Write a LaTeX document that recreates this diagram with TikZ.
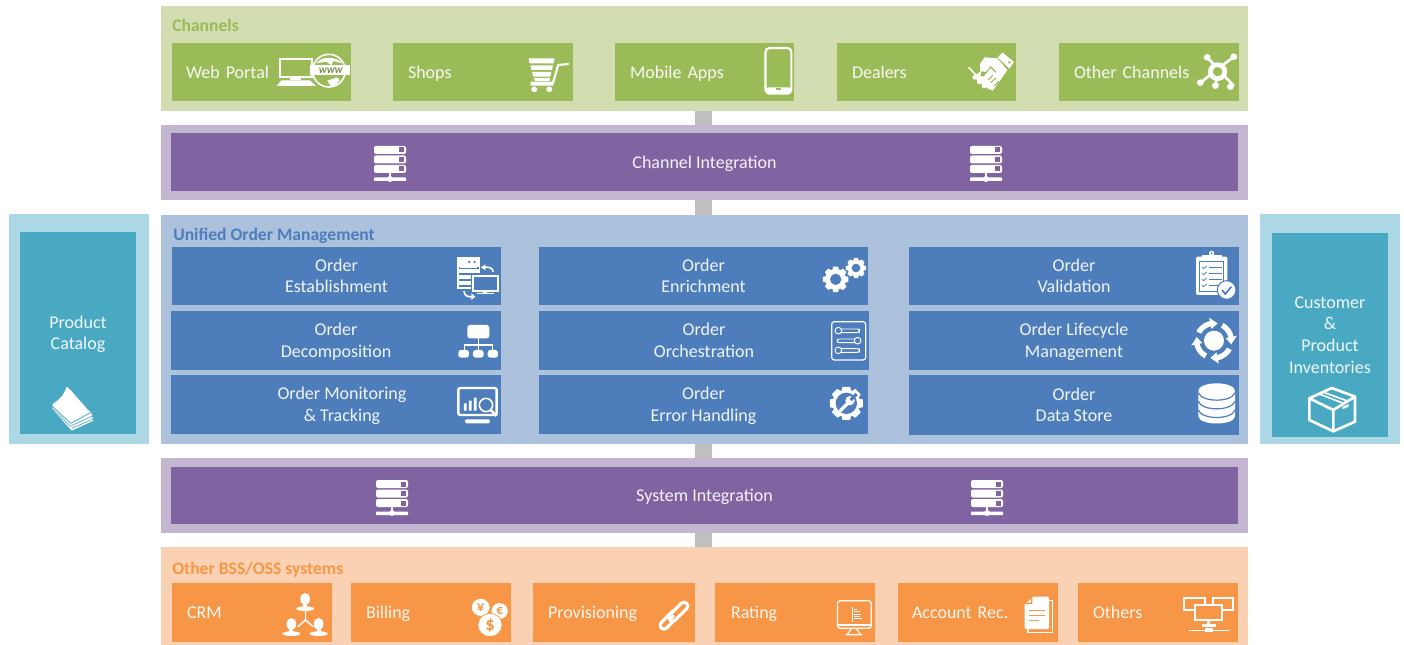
\documentclass[tikz,border=0pt]{standalone}
\usepackage{fontspec}
\setmainfont{Carlito}
\usetikzlibrary{calc}
\definecolor{grnL}{HTML}{D2DEB1}\definecolor{grn}{HTML}{9BBB59}
\definecolor{purL}{HTML}{C3B6D1}\definecolor{pur}{HTML}{8064A2}
\definecolor{bluL}{HTML}{ABC1DC}\definecolor{blu}{HTML}{4D7EBB}
\definecolor{tealL}{HTML}{ACD7E4}\definecolor{teal2}{HTML}{4AA9C2}
\definecolor{orgL}{HTML}{FAD1B2}\definecolor{org}{HTML}{F79646}
\definecolor{barg}{HTML}{BFBFBF}\definecolor{txt}{HTML}{FFFFFF}
\newcommand\bx[7]{\node[#2,minimum width={(#5-#3)*0.75pt},minimum height={(#6-#4)*0.75pt}] (#1) at ({(#3+#5)/2},{(#4+#6)/2}) {#7};}
\newcommand\obx[6]{\node[bluebox,minimum width={(#4-#2)*0.75pt},minimum height={(#5-#3)*0.75pt}] (#1) at ({(#2+#4)/2},{(#3+#5)/2}) {};
 \node[freelabel] (#1t) at ({(#2+#4)/2},{(#3+#5)/2+3}) {#6};}
\newcommand\lbx[7]{\node[#2,align=left,inner xsep=11.25pt,text width={(#5-#3-30)*0.75pt},minimum width={(#5-#3)*0.75pt},minimum height={(#6-#4)*0.75pt}] (#1) at ({(#3+#5)/2},{(#4+#6)/2}) {#7};}
\newcommand\icoserver[3]{\begin{scope}[shift={(#1,#2)}]
 \foreach \yy in {-17,-7.5,2}{\fill[white,rounded corners=1.5pt] (-16,\yy) rectangle (16,\yy+8);
 \fill[#3] (9,\yy+1.5) rectangle (14,\yy+6.5);}
 \fill[white] (-1,10) rectangle (1,15);
 \fill[white,rounded corners=.5pt] (-16,14.5) rectangle (16,18);
 \fill[white] (0,16) circle[radius=3];
\end{scope}}
\newcommand\icogear[5]{%
 \fill[white] (#1,#2) circle[radius={0.8*#3}];
 \foreach \a in {0,45,...,315}{\fill[white] ({#1+#3*cos(\a-#5)},{#2+#3*sin(\a-#5)}) -- ({#1+#3*cos(\a+#5)},{#2+#3*sin(\a+#5)}) -- ({#1+.7*#3*cos(\a+2*#5)},{#2+.7*#3*sin(\a+2*#5)}) -- ({#1+.7*#3*cos(\a-2*#5)},{#2+.7*#3*sin(\a-2*#5)}) -- cycle;}
 \fill[blu] (#1,#2) circle[radius=#4];}
\newcommand\icoperson[2]{%
 \fill[white] (#1,#2) ellipse[x radius=14,y radius=18];
 \fill[white] (#1-6,#2+12) rectangle (#1+6,#2+24);
 \fill[white] (#1,#2+29) ellipse[x radius=26,y radius=7];}
\newcommand\icocoin[5]{%
 \fill[white,draw=org,line width=.5pt] (#1,#2) circle[radius=#3];
 \node[inner sep=0,text=org,font=\fontsize{#5}{#5}\selectfont\bfseries] (#4) at (#1,#2) {\csname coin#4\endcsname};}
\newcommand\coinyen{¥}\newcommand\coineur{€}\newcommand\coindol{\$}
\tikzset{
 x=0.75pt,y=-0.75pt,
 panelbox/.style={inner sep=0,outer sep=0,draw=none},
 labeltext/.style={text=txt,text opacity=.92,font=\fontsize{13.5}{16.2}\selectfont,align=center,execute at begin node={\rule{0pt}{14.4pt}},execute at end node={\rule[-4.8pt]{0pt}{0pt}}},
 greenbox/.style={panelbox,fill=grn,labeltext},
 purplebox/.style={panelbox,fill=pur,labeltext},
 bluebox/.style={panelbox,fill=blu},
 tealbox/.style={panelbox,fill=teal2},
 orangebox/.style={panelbox,fill=org,labeltext},
 freelabel/.style={inner sep=0,labeltext},
 title/.style={inner sep=0,anchor=west,font=\fontsize{13.2}{15}\selectfont\bfseries},
 connector/.style={draw=barg,line width=12.4pt},
 zA/.style={shift={(160,0)},xscale=1/2.8,yscale=1/3},
 zB/.style={shift={(720,0)},xscale=1/2.9,yscale=1/3},
 zC/.style={shift={(0,210)},xscale=1/3,yscale=1/3},
 zD/.style={shift={(520,240)},xscale=1/3,yscale=1/3},
 zE/.style={shift={(900,210)},xscale=1/3,yscale=1/3},
 zF/.style={shift={(160,530)},xscale=1/2.9,yscale=1/3},
 zG/.style={shift={(700,530)},xscale=1/2.85,yscale=1/3},
 zH/.style={shift={(960,48)},xscale=1/3,yscale=1/3},
 zI/.style={shift={(460,590)},xscale=1/3,yscale=1/3},
 w1/.style={draw=white,line width=.9pt},
 w2/.style={draw=white,line width=1.6pt},
}
\begin{document}
\begin{tikzpicture}
\useasboundingbox (0,0) rectangle (1404,645);
\coordinate (axis) at (703.5,0);
% panels
\bx{channels}{panelbox,fill=grnL}{161}{6}{1248}{111}{}
\bx{chint}{panelbox,fill=purL}{161}{125}{1248}{200}{}
\bx{uom}{panelbox,fill=bluL}{161}{215}{1248}{444}{}
\bx{sysint}{panelbox,fill=purL}{161}{458}{1248}{533}{}
\bx{bss}{panelbox,fill=orgL}{161}{547}{1248}{645}{}
\bx{catalogP}{panelbox,fill=tealL}{9}{214}{149}{444}{}
\bx{invP}{panelbox,fill=tealL}{1260}{214}{1400}{444}{}
% connectors
\draw[connector] (channels.south -| axis) -- (chint.north -| axis);
\draw[connector] (chint.south -| axis) -- (uom.north -| axis);
\draw[connector] (uom.south -| axis) -- (sysint.north -| axis);
\draw[connector] (sysint.south -| axis) -- (bss.north -| axis);
% titles
\node[title,text=grn] (tchan) at (172,25) {Channels};
\node[title,text=blu] (tuom) at (173,236) {Unified Order Management};
\node[title,text=org] (tbss) at (172,570) {Other BSS/OSS systems};
% channels
\lbx{web}{greenbox}{172}{43}{351}{101}{\hspace*{-.75pt}Web Portal}
\lbx{shops}{greenbox}{393}{43}{573}{101}{Shops}
\lbx{mobile}{greenbox}{615}{43}{794}{101}{Mobile Apps}
\lbx{dealers}{greenbox}{837}{43}{1016}{101}{Dealers}
\lbx{otherch}{greenbox}{1059}{43}{1239}{101}{Other Channels}
% integrations
\bx{chbar}{purplebox}{171}{133}{1238}{191}{Channel Integration}
\bx{sysbar}{purplebox}{171}{467}{1238}{524}{System Integration}
% order boxes
\obx{o11}{172}{247}{501}{305}{Order\\Establishment}
\obx{o21}{171}{311}{501}{370}{Order\\Decomposition}
\obx{o31}{171}{375}{501}{434}{\hspace*{9pt}Order Monitoring\\\hspace*{9pt}\& Tracking}
\obx{o12}{539}{247}{868}{305}{Order\\Enrichment}
\obx{o22}{539}{311}{869}{370}{Order\\Orchestration}
\obx{o32}{539}{375}{868}{434}{Order\\Error Handling}
\obx{o13}{909}{247}{1239}{305}{Order\\Validation}
\obx{o23}{909}{311}{1239}{370}{Order Lifecycle\\Management}
\obx{o33}{909}{375}{1239}{435}{Order\\Data Store}
% side
\bx{catalog}{tealbox}{20}{232}{136}{434}{}
\bx{inv}{tealbox}{1272}{233}{1388}{437}{}
\node[freelabel] (tcat) at (78,336) {Product\\Catalog};
\node[freelabel] (tinv) at (1330,338) {Customer\\\&\\Product\\Inventories};
% bss
\lbx{crm}{orangebox}{172}{583}{332}{642}{CRM}
\lbx{billing}{orangebox}{351}{583}{511}{642}{Billing}
\lbx{prov}{orangebox}{533}{583}{695}{642}{Provisioning}
\lbx{rating}{orangebox}{715}{583}{875}{642}{\hspace*{.75pt}Rating}
\lbx{acct}{orangebox}{898}{583}{1058}{642}{\hspace*{-.75pt}Account Rec.}
\lbx{others}{orangebox}{1078}{583}{1238}{642}{Others}
% server icons
\icoserver{390}{163}{pur}\icoserver{986}{163}{pur}
\icoserver{392}{497}{pur}\icoserver{987}{497}{pur}
% web portal
\begin{scope}[zA]
 \draw[w2] (337,176) rectangle (425,232);
 \fill[white] (365,232) rectangle (395,241);
 \fill[white] (340,241) -- (420,241) -- (437,258) -- (327,258) -- cycle;
 \fill[grn,draw=white,line width=1.2pt] (473,212) ellipse[x radius=46,y radius=49];
 \fill[white] (438,190) .. controls (450,168) and (495,168) .. (510,190) -- (485,183) -- (480,195) -- (465,185) -- cycle;
 \fill[white] (468,242) -- (495,232) -- (503,240) .. controls (495,255) and (485,258) .. (478,258) -- cycle;
 \fill[white] (421,196) rectangle (532,226);
 \node[inner sep=0,text=grn!70!black,font=\fontsize{6.5}{6.5}\selectfont\itshape\bfseries] (wwwt) at (478,211) {WWW};
 % cart
 \fill[white] (1032,175) -- (1105,175) -- (1102,190) -- (1035,190) -- cycle;
 \fill[white] (1037,196) -- (1100,196) -- (1098,210) -- (1040,210) -- cycle;
 \fill[white] (1042,216) -- (1096,216) -- (1093,230) -- (1045,230) -- cycle;
 \fill[white] (1047,234) -- (1092,234) -- (1090,243) -- (1050,243) -- cycle;
 \fill[white,rounded corners=.5pt] (1038,245) rectangle (1102,257);
 \draw[w2,line cap=round] (1100,250) -- (1115,195) -- (1143,192);
 \fill[white] (1048,268) circle[radius=8.5];
 \fill[white] (1090,268) circle[radius=8.5];
\end{scope}
% phone, network
\begin{scope}[zB]
 \draw[w2,rounded corners=3pt] (132,144) rectangle (207,281);
 \fill[white,rounded corners=2pt] (132,262) rectangle (207,281);
 \fill[grn] (161,265) rectangle (176,271);
 \draw[w2,line width=2pt] (1413,172) -- (1490,258) (1490,170) -- (1393,248) (1437,257) -- (1443,215);
 \fill[white] (1413,172) circle[radius=10] (1490,170) circle[radius=10] (1393,248) circle[radius=10] (1437,257) circle[radius=10] (1480,260) circle[radius=10];
 \fill[white] (1443,215) circle[radius=28];
 \fill[grn] (1443,215) circle[radius=14];
\end{scope}
% handshake
\begin{scope}[zH]
 \fill[white] (128,14) -- (162,42) -- (148,62) -- (113,28) -- cycle;
 \fill[grn] (148,43) circle[radius=4];
 \fill[white] (60,48) -- (74,28) -- (112,31) -- (142,66) -- (124,92) -- (98,128) -- (84,122) -- (52,98) -- (42,84) -- (60,72) -- cycle;
 \fill[grn] (64,70) -- (78,72) -- (92,54) -- (110,72) -- (84,88) -- (62,84) -- cycle;
 \fill[white] (92,60) -- (118,86) -- (90,110) -- (66,92) -- cycle;
 \draw[grn,line width=.8pt] (84,96) -- (98,82) (92,104) -- (108,90) (102,114) -- (116,100);
 \draw[w2,line width=1.2pt] (26,58) -- (58,92);
 \fill[white] (44,88) circle[radius=7] (58,102) circle[radius=7] (72,114) circle[radius=7];
\end{scope}
% catalog, establishment, decomposition, monitoring
\begin{scope}[zC]
 \fill[white] (158,582) .. controls (178,570) and (192,555) .. (200,530) .. controls (235,560) and (255,585) .. (275,612) -- (280,632) -- (215,662) -- (158,598) -- cycle;
 \draw[teal2,line width=.6pt] (158,590) -- (212,640) -- (272,608);
 \draw[teal2,line width=.5pt] (214,647) -- (278,618);
 \draw[teal2,line width=.5pt] (215,655) -- (279,627);
 \draw[teal2,line width=.5pt] (158,597) -- (212,650);
 \draw[teal2,line width=.6pt] (218,545) -- (266,600);
 % establishment
 \fill[white] (1372,142) rectangle (1440,238);
 \fill[blu] (1408,156) circle[radius=4] (1424,156) circle[radius=4];
 \fill[blu] (1378,170) rectangle (1436,176);
 \fill[white] (1380,172) rectangle (1430,174);
 \fill[blu] (1378,188) rectangle (1412,196);
 \fill[blu] (1378,206) rectangle (1412,214);
 \fill[blu] (1378,224) rectangle (1412,230);
 \fill[blu] (1412,190) rectangle (1497,248);
 \draw[w2] (1420,197) rectangle (1493,242);
 \fill[white] (1450,242) rectangle (1462,248);
 \fill[white] (1432,249) rectangle (1482,252);
 \draw[w1,line width=1.2pt] (1480,186) .. controls (1478,172) and (1465,170) .. (1450,172);
 \fill[white] (1443,172) -- (1456,163) -- (1456,181) -- cycle;
 \draw[w1,line width=1.2pt] (1392,243) .. controls (1393,258) and (1405,262) .. (1418,260);
 \fill[white] (1426,260) -- (1414,250) -- (1414,270) -- cycle;
 % decomposition
 \fill[white,rounded corners=2pt] (1402,345) rectangle (1468,385);
 \draw[w1] (1435,385) -- (1435,405) (1393,420) -- (1393,405) -- (1478,405) -- (1478,420) (1435,405) -- (1435,420);
 \fill[white,rounded corners=2pt] (1375,420) rectangle (1407,443);
 \fill[white,rounded corners=2pt] (1419,420) rectangle (1451,443);
 \fill[white,rounded corners=2pt] (1463,420) rectangle (1494,443);
 % monitoring
 \draw[draw=white,line width=1.8pt,rounded corners=1.5pt] (1375,534) rectangle (1490,615);
 \fill[white] (1392,580) rectangle (1400,602) (1407,572) rectangle (1415,602) (1422,563) rectangle (1430,602);
 \draw[w1,line width=1.2pt] (1458,585) circle[radius=20];
 \draw[white,line width=2pt] (1472,600) -- (1490,618);
 \fill[white,rounded corners=1pt] (1395,628) rectangle (1470,640);
\end{scope}
% enrichment, orchestration, error
\begin{scope}[zD]
 \icogear{947}{118}{39}{17}{11}
 \icogear{1008}{84}{31}{13}{11}
 \draw[w1,rounded corners=2pt] (935,245) rectangle (1037,360);
 \draw[draw=white,line width=.7pt,rounded corners=1.5pt] (955,267) rectangle (1018,278);
 \draw[draw=white,line width=.7pt,rounded corners=1.5pt] (952,297) rectangle (1015,308);
 \draw[draw=white,line width=.7pt,rounded corners=1.5pt] (955,326) rectangle (1018,337);
 \fill[blu,draw=white,line width=.7pt] (955,272) circle[radius=10] (1013,302) circle[radius=10] (955,331) circle[radius=10];
 \icogear{979}{490}{51}{32}{13}
 \draw[white,line width=2.6pt,line cap=round] (961,512) -- (983,490);
 \fill[white] (990,482) circle[radius=14];
 \draw[blu,line width=2.4pt] (992,480) -- (1010,462);
\end{scope}
% validation, lifecycle, data, box
\begin{scope}[zE]
 \fill[white,rounded corners=1.5pt] (888,140) rectangle (982,255);
 \fill[white] (905,135) rectangle (965,150);
 \fill[white] (935,130) circle[radius=8];
 \fill[blu] (935,130) circle[radius=3];
 \draw[blu,line width=.5pt] (899,154) rectangle (971,244);
 \foreach \yy in {172,190,208,226}{
  \draw[blu,line width=.6pt] (906,\yy) -- (911,\yy+4) -- (920,\yy-4);
  \draw[blu,line width=1pt] (928,\yy) -- (966,\yy);}
 \fill[white,draw=blu,line width=.8pt] (980,240) circle[radius=28];
 \draw[blu,line width=1.3pt] (966,240) -- (976,252) -- (994,230);
 % lifecycle
 \fill[white] (942,392) circle[radius=30];
 \foreach \a in {-70,20,110,200}{
  \fill[white] plot[smooth,domain=\a+8:\a+58,samples=7] ({942+60*cos(\x)},{392+60*sin(\x)})
   -- ({942+70*cos(\a+58)},{392+70*sin(\a+58)}) -- ({942+53*cos(\a+82)},{392+53*sin(\a+82)}) -- ({942+36*cos(\a+58)},{392+36*sin(\a+58)})
   -- plot[smooth,domain=\a+58:\a+8,samples=7] ({942+44*cos(\x)},{392+44*sin(\x)}) -- cycle;}
 % database
 \fill[white] (895,545) -- (895,618) .. controls (895,648) and (1005,648) .. (1005,618) -- (1005,545) -- cycle;
 \fill[white] (950,542) ellipse[x radius=55,y radius=22];
 \draw[blu,line width=.9pt] (895,548) .. controls (905,578) and (995,578) .. (1005,548);
 \draw[blu,line width=.9pt] (895,574) .. controls (905,604) and (995,604) .. (1005,574);
 \draw[blu,line width=.9pt] (895,600) .. controls (905,630) and (995,630) .. (1005,600);
 % box
 \draw[draw=white,line width=2pt,line join=round] (1295,534) -- (1365,560) -- (1365,635) -- (1300,664) -- (1228,630) -- (1228,565) -- cycle;
 \draw[draw=white,line width=2pt,line join=round] (1228,565) -- (1300,600) -- (1365,560) (1300,600) -- (1300,664);
 \draw[draw=white,line width=1.2pt] (1258,552) -- (1330,580) (1268,546) -- (1340,572);
 \fill[white] (1328,590) -- (1346,582) -- (1346,590) -- (1328,598) -- cycle;
\end{scope}
% crm, billing
\begin{scope}[zF]
 \icoperson{421}{207}
 \icoperson{381}{282}
 \icoperson{460}{282}
 \draw[white,line width=1.1pt] (422,240) -- (422,270) (422,270) -- (400,290) (422,270) -- (444,290);
 \icocoin{930}{232}{27}{yen}{11}
 \icocoin{985}{243}{25}{eur}{10}
 \icocoin{957}{285}{35}{dol}{14}
\end{scope}
% chain
\begin{scope}[zI]
 \draw[white,line width=8.2pt,line cap=round] (612,106) -- (645,72);
 \draw[org,line width=3pt,line cap=round] (612,106) -- (645,72);
 \draw[white,line width=8.2pt,line cap=round] (638,82) -- (672,48);
 \draw[org,line width=3pt,line cap=round] (638,82) -- (672,48);
 \draw[white,line width=2.4pt] (630,88) -- (642,76);
\end{scope}
% rating, document, others
\begin{scope}[zG]
 \draw[w1,rounded corners=2pt] (392,212) rectangle (488,295);
 \draw[w1] (392,285) -- (488,285) (434,232) -- (434,275);
 \draw[draw=white,line width=.6pt] (440,238) -- (448,238) (440,245) -- (456,245) (440,252) -- (460,252) (440,259) -- (456,259) (440,266) -- (462,266);
 \draw[w1] (432,295) -- (420,313) (445,295) -- (457,313) (415,314) -- (462,314);
 \draw[w1] (995,212) -- (1005,212) -- (1005,307) -- (935,307) -- (935,297);
 \fill[white,rounded corners=1pt] (947,200) -- (995,200) -- (995,297) -- (925,297) -- (925,222) -- cycle;
 \fill[org] (947,200) -- (947,222) -- (925,222) -- cycle;
 \fill[white] (943,207) -- (943,218) -- (932,218) -- cycle;
 \draw[org,line width=1.1pt] (938,241) -- (984,241) (938,256) -- (984,256) (938,272) -- (965,272);
 \draw[w2] (1380,205) rectangle (1440,240);
 \draw[w2] (1462,205) rectangle (1520,240);
 \fill[org,draw=white,line width=1.6pt] (1412,225) rectangle (1487,270);
 \fill[white] (1445,271) rectangle (1455,285);
 \fill[white] (1430,283) rectangle (1470,290);
 \draw[w1,line width=.8pt] (1395,301) -- (1507,301);
 \fill[white] (1438,295) rectangle (1462,307);
\end{scope}
\end{tikzpicture}
\end{document}
